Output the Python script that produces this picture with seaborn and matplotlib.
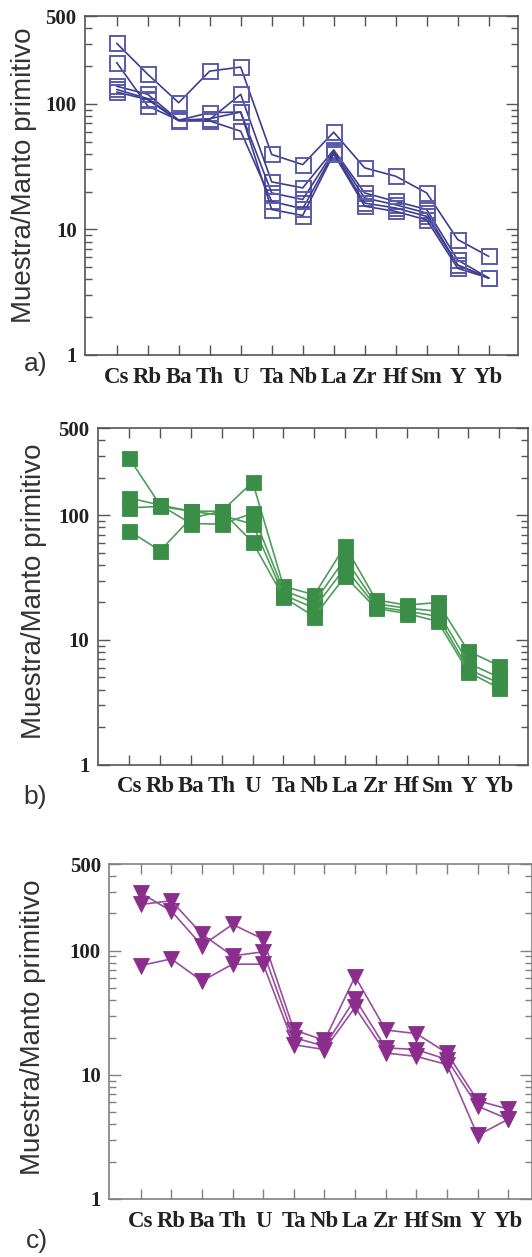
import matplotlib
matplotlib.use("Agg")

import matplotlib.pyplot as plt
import seaborn as sns
import pandas as pd
from matplotlib.ticker import FixedLocator, LogLocator, NullFormatter

# ===========================
# Datos (normalizado a manto primitivo)
# ===========================

elementos = ["Cs", "Rb", "Ba", "Th", "U", "Ta", "Nb", "La", "Zr", "Hf", "Sm", "Y", "Yb"]

# a) cuadrados abiertos
a1 = [303, 172, 102, 182, 196, 39.5, 32.8, 59.4, 30.9, 26.5, 19.5, 8.3, 6.1]
a2 = [213, 96, 74, 75, 119, 23.9, 21.4, 43, 19.5, 16.7, 14.4, 5.7, 4.1]
a3 = [138, 119, 74, 85, 86, 19.5, 17.3, 42, 17.8, 15.7, 13.5, 5.2, 4.1]
a4 = [124, 108, 73, 73, 60.5, 16.7, 14.6, 41, 16.2, 14.8, 12.7, 5.2, 4.1]
a5 = [130, 110, 74, 76, 86, 14.4, 12.9, 40, 15.3, 13.9, 11.9, 4.9, 4.1]

# b) cuadrados rellenos
b1 = [287, 121, 108, 108, 185, 27, 23, 57, 21, 19, 20, 8.1, 6.2]
b2 = [138, 121, 86, 85, 104, 25, 20, 45, 19.5, 18, 17, 6.5, 5]
b3 = [115, 118, 108, 100, 85, 23, 18, 38, 18.5, 17, 15.5, 5.8, 4.5]
b4 = [75, 52, 95, 108, 61, 22, 15.4, 32.4, 17.9, 16.3, 14.1, 5.5, 4.1]

# c) triangulos
c1 = [292, 209, 110, 163, 124, 23, 19, 62, 23, 21.5, 15, 6.2, 5.3]
c2 = [236, 253, 136, 91, 98, 20, 17, 41, 16.5, 16, 13.3, 5.6, 4.4]
c3 = [76, 86, 57, 78, 78, 17.5, 16, 35, 15, 14.1, 12.1, 3.25, 4.4]

ticks_y = [1, 10, 100, 500]
etiquetas_y = ["1", "10", "100", "500"]


def tabla(series):
    filas = []
    for i, s in enumerate(series):
        for el, v in zip(elementos, s):
            filas.append({"muestra": i, "elemento": el, "valor": v})
    return pd.DataFrame(filas)


# ===========================
# Estilo
# ===========================

sns.set_style("ticks")
plt.rcParams["font.family"] = ["Liberation Sans", "DejaVu Sans"]

fig = plt.figure(figsize=(5.32, 12.57), dpi=100)

W, H = 532.0, 1257.0

paneles = [
    dict(series=[a1, a2, a3, a4, a5], box=(85, 16, 518, 355), x0=116.7, dx=31.0,
         marker="s", ms=10.8, mfc="none", mec="#5b5bab", mew=1.4, lc="#3d3d8f",
         spine="#555555", ylab=(24, 175), letra="a)", letra_xy=(36, 364)),
    dict(series=[b1, b2, b3, b4], box=(97.7, 428.3, 528, 764.5), x0=129.3, dx=30.83,
         marker="s", ms=10.8, mfc="#3a8e47", mec="#3a8e47", mew=0.6, lc="#4f9d5a",
         spine="#555555", ylab=(34, 591), letra="b)", letra_xy=(35, 797)),
    dict(series=[c1, c2, c3], box=(109.3, 864, 532, 1199), x0=140.7, dx=30.63,
         marker="v", ms=11.2, mfc="#8b2d8c", mec="#8b2d8c", mew=0.6, lc="#9a4d9e",
         spine="#808080", ylab=(33, 1027), letra="c)", letra_xy=(37, 1241)),
]

for p in paneles:
    l, t, r, b = p["box"]
    ax = fig.add_axes([l / W, 1 - b / H, (r - l) / W, (b - t) / H])
    ax.set_yscale("log")

    sns.lineplot(
        data=tabla(p["series"]),
        x="elemento",
        y="valor",
        units="muestra",
        estimator=None,
        sort=False,
        color=p["lc"],
        linewidth=1.2,
        marker=p["marker"],
        markersize=p["ms"],
        markerfacecolor=p["mfc"],
        markeredgecolor=p["mec"],
        markeredgewidth=p["mew"],
        legend=False,
        ax=ax,
    )

    ax.set_xlabel("")
    ax.set_ylabel("")

    ax.set_ylim(1, 500)
    ax.set_xlim((l - p["x0"]) / p["dx"], (r - p["x0"]) / p["dx"])

    ax.yaxis.set_major_locator(FixedLocator(ticks_y))
    ax.yaxis.set_minor_locator(LogLocator(base=10, subs=range(2, 10)))
    ax.yaxis.set_minor_formatter(NullFormatter())
    ax.set_yticklabels(etiquetas_y, family=["Liberation Serif"], weight="bold",
                       size=15, color="#222222")

    ax.set_xticks(range(len(elementos)))
    ax.set_xticklabels(elementos, family=["Liberation Serif"], weight="bold",
                       size=16.5, color="#222222")

    ax.tick_params(axis="both", which="both", direction="in", top=True, right=True,
                   color=p["spine"], width=1.0)
    ax.tick_params(axis="y", which="major", length=8.5, pad=6)
    ax.tick_params(axis="y", which="minor", length=5)
    ax.tick_params(axis="x", which="major", length=7, pad=8.5)
    ax.tick_params(axis="x", which="minor", length=0)

    for s in ax.spines.values():
        s.set_color(p["spine"])
        s.set_linewidth(1.2)

    fig.text(p["ylab"][0] / W, 1 - p["ylab"][1] / H, "Muestra/Manto primitivo",
             rotation=90, ha="center", va="center", fontsize=20, color="#333333")
    fig.text(p["letra_xy"][0] / W, 1 - p["letra_xy"][1] / H, p["letra"],
             ha="center", va="center", fontsize=19, color="#333333")

plt.savefig("out.png", dpi=100)
plt.close()
